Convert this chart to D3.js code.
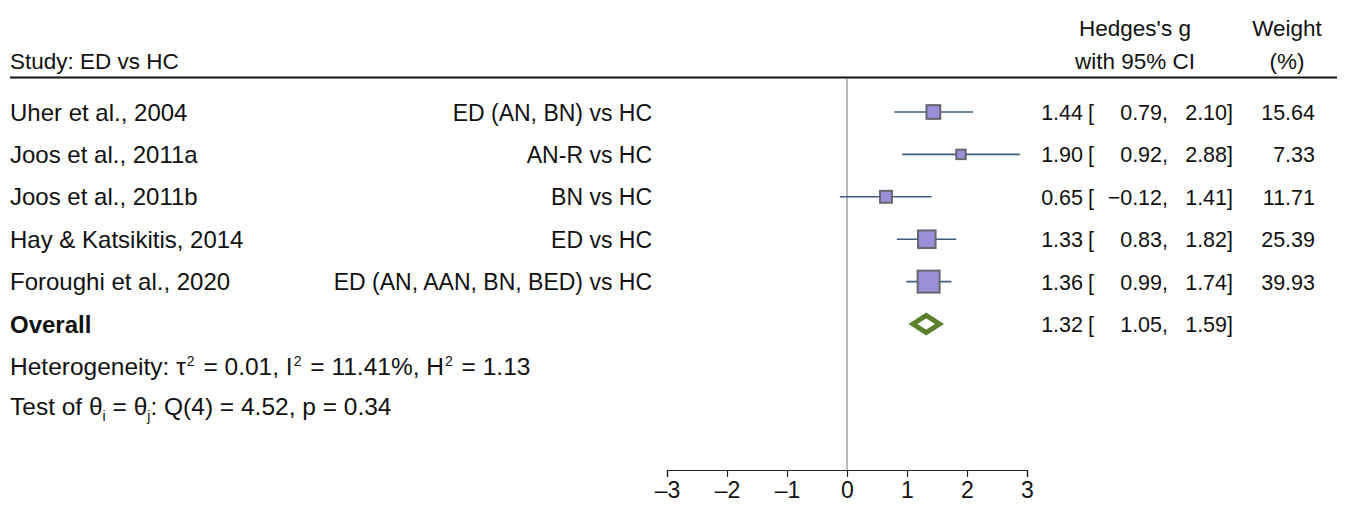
<!DOCTYPE html>
<html>
<head>
<meta charset="utf-8">
<script src="https://cdn.jsdelivr.net/npm/d3@7"></script>
<style>
  body { margin: 0; background: #fff; }
  svg { display: block; font-family: "Liberation Sans", Arial, Helvetica, sans-serif; fill: #111; }
</style>
</head>
<body>
<div id="chart"></div>
<script>
// study rows
const studies = ["Uher et al., 2004", "Joos et al., 2011a", "Joos et al., 2011b",
                 "Hay & Katsikitis, 2014", "Foroughi et al., 2020"];
const groups = ["ED (AN, BN) vs HC", "AN-R vs HC", "BN vs HC", "ED vs HC",
                "ED (AN, AAN, BN, BED) vs HC"];
const est = [1.44, 1.90, 0.65, 1.33, 1.36];
const lo = [0.79, 0.92, -0.12, 0.83, 0.99];
const hi = [2.10, 2.88, 1.41, 1.82, 1.74];
const weight = [15.64, 7.33, 11.71, 25.39, 39.93];

// overall
const overall = { est: 1.32, lo: 1.05, hi: 1.59 };
const xTicks = [-3, -2, -1, 0, 1, 2, 3];

const W = 1347, H = 505;
const FS_HEAD = 22.5, FS_LAB = 24, FS_GRP = 23, FS_NUM = 21.5, FS_NOTE = 24.5;

const svg = d3.select("#chart").append("svg")
    .attr("width", W)
    .attr("height", H);

let x = d3.scaleLinear().domain([-3, 3]).range([667, 1027]);
let rowIdx = d3.range(studies.length + 1);
let y = d3.scalePoint().domain(rowIdx).range([112, 324]);
let side = d3.scaleSqrt().domain([0, 40]).range([0, 22]);

let fmt = d3.format(".2f");
let num = v => fmt(v).replace("-", "\u2013");

// header
svg.append("text").attr("x", 10).attr("y", 69).attr("font-size", FS_HEAD).text("Study: ED vs HC");
svg.append("text").attr("x", 1135).attr("y", 36).attr("font-size", FS_HEAD)
    .attr("text-anchor", "middle").text("Hedges's g");
svg.append("text").attr("x", 1135).attr("y", 69).attr("font-size", FS_HEAD)
    .attr("text-anchor", "middle").text("with 95% CI");
svg.append("text").attr("x", 1287).attr("y", 36).attr("font-size", FS_HEAD)
    .attr("text-anchor", "middle").text("Weight");
svg.append("text").attr("x", 1287).attr("y", 69).attr("font-size", FS_HEAD)
    .attr("text-anchor", "middle").text("(%)");

svg.append("line")
    .attr("x1", 10).attr("x2", 1337)
    .attr("y1", 77.5).attr("y2", 77.5)
    .attr("stroke", "#111").attr("stroke-width", 2);

// zero line
svg.append("line")
    .attr("x1", x(0)).attr("x2", x(0))
    .attr("y1", 78).attr("y2", 470)
    .attr("stroke", "#8a8a8a").attr("stroke-width", 1.2);

// rows
let rows = svg.append("g").selectAll("g")
    .data(studies.map((s, i) => ({ s, g: groups[i], est: est[i], lo: lo[i], hi: hi[i], w: weight[i], i })))
    .join("g");

rows.append("text")
    .attr("x", 10).attr("y", d => y(d.i) + 8.5)
    .attr("font-size", FS_LAB).text(d => d.s);
rows.append("text")
    .attr("x", 652).attr("y", d => y(d.i) + 8.5)
    .attr("font-size", FS_GRP).attr("text-anchor", "end").text(d => d.g);

rows.append("line")
    .attr("x1", d => x(d.lo)).attr("x2", d => x(d.hi))
    .attr("y1", d => y(d.i)).attr("y2", d => y(d.i))
    .attr("stroke", "#3d5d7e").attr("stroke-width", 1.6);

rows.append("rect")
    .attr("x", d => x(d.est) - side(d.w) / 2)
    .attr("y", d => y(d.i) - side(d.w) / 2)
    .attr("width", d => side(d.w))
    .attr("height", d => side(d.w))
    .attr("fill", "#9a8fd9")
    .attr("stroke", "#66666e")
    .attr("stroke-width", 2);

function ciText(g, d, yy) {
    g.append("text").attr("x", 1083).attr("y", yy).attr("font-size", FS_NUM)
        .attr("text-anchor", "end").text(num(d.est));
    g.append("text").attr("x", 1088).attr("y", yy).attr("font-size", FS_NUM).text("[");
    g.append("text").attr("x", 1168).attr("y", yy).attr("font-size", FS_NUM)
        .attr("text-anchor", "end").text(num(d.lo) + ",");
    g.append("text").attr("x", 1233).attr("y", yy).attr("font-size", FS_NUM)
        .attr("text-anchor", "end").text(num(d.hi) + "]");
}

rows.each(function(d) {
    let g = d3.select(this);
    ciText(g, d, y(d.i) + 8);
    g.append("text").attr("x", 1315).attr("y", y(d.i) + 8).attr("font-size", FS_NUM)
        .attr("text-anchor", "end").text(fmt(d.w));
});

// overall row
let oy = y(studies.length);
svg.append("text").attr("x", 10).attr("y", oy + 8.5).attr("font-size", FS_LAB)
    .attr("font-weight", "bold").text("Overall");
let dh = 8.5, inset = 3;
svg.append("path")
    .attr("d", `M${x(overall.lo) + inset},${oy} L${x(overall.est)},${oy - dh} L${x(overall.hi) - inset},${oy} L${x(overall.est)},${oy + dh} Z`)
    .attr("fill", "white")
    .attr("stroke", "#5b7f2c")
    .attr("stroke-width", 5)
    .attr("stroke-linejoin", "miter");
ciText(svg.append("g"), overall, oy + 8);

// heterogeneity notes
let het = svg.append("text").attr("x", 10).attr("y", 375).attr("font-size", FS_NOTE);
het.append("tspan").text("Heterogeneity: \u03c4");
het.append("tspan").attr("font-size", 14).attr("dx", 1).attr("dy", -9).text("2");
het.append("tspan").attr("dx", 2).attr("dy", 9).text(" = 0.01, I");
het.append("tspan").attr("font-size", 14).attr("dx", 1).attr("dy", -9).text("2");
het.append("tspan").attr("dx", 2).attr("dy", 9).text(" = 11.41%, H");
het.append("tspan").attr("font-size", 14).attr("dx", 1).attr("dy", -9).text("2");
het.append("tspan").attr("dx", 2).attr("dy", 9).text(" = 1.13");

let tst = svg.append("text").attr("x", 10).attr("y", 415).attr("font-size", FS_NOTE);
tst.append("tspan").text("Test of \u03b8");
tst.append("tspan").attr("font-size", 14).attr("dy", 6).text("i");
tst.append("tspan").attr("dy", -6).text(" = \u03b8");
tst.append("tspan").attr("font-size", 14).attr("dy", 6).text("j");
tst.append("tspan").attr("dy", -6).text(": Q(4) = 4.52, p = 0.34");

// x axis
let axis = svg.append("g")
    .attr("transform", "translate(0,470)")
    .call(d3.axisBottom(x).tickValues(xTicks).tickSizeOuter(0).tickSize(7).tickPadding(5)
        .tickFormat(d => String(d).replace("-", "\u2013")));
axis.select(".domain").attr("stroke", "#222").attr("stroke-width", 1.2);
axis.selectAll(".tick line").attr("stroke", "#222").attr("stroke-width", 1.2);
axis.selectAll(".tick text")
    .attr("font-size", 23)
    .attr("font-family", "Liberation Sans, Arial, sans-serif")
    .attr("fill", "#111");
</script>
</body>
</html>
